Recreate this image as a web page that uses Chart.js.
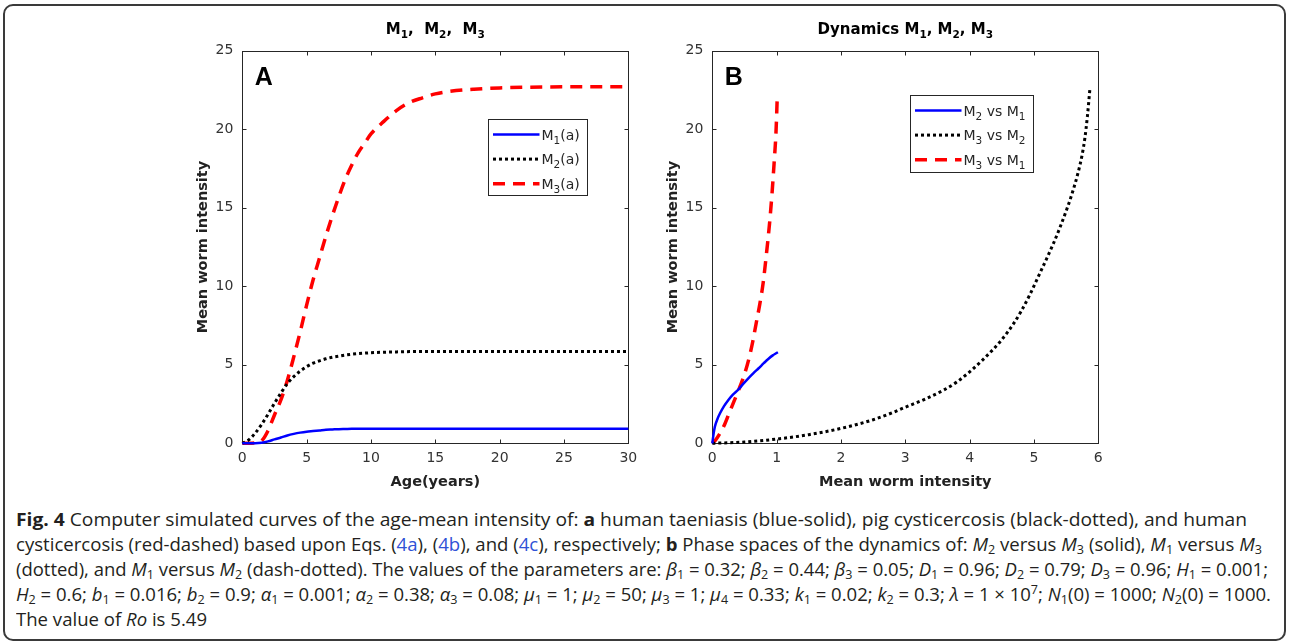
<!DOCTYPE html>
<html>
<head>
<meta charset="utf-8">
<script src="https://cdn.jsdelivr.net/npm/chart.js@4.4.1/dist/chart.umd.min.js"></script>
<style>
  body { margin: 0; background: #fff; width: 1290px; height: 644px; position: relative; overflow: hidden; }
  .frame { position: absolute; left: 3px; top: 4px; width: 1283px; height: 637px; box-sizing: border-box;
           border: 2px solid #3a3a3a; border-radius: 10px; }
  .plot { position: absolute; top: 8px; }
  .cap { position: absolute; left: 16px; top: 507px; font-family: "Open Sans", "Noto Sans", sans-serif;
         font-size: 17.5px; line-height: 25px; color: #231f20; }
  .cap .ln { display: block; white-space: nowrap; transform-origin: 0 50%; width: max-content; }
  .cap sub, .cap sup { font-size: 0.68em; line-height: 0; }
  .cap sub { vertical-align: -0.28em; }
  .cap sup { vertical-align: 0.55em; }
  .cap .lk { color: #2f52d6; }
</style>
</head>
<body>
<div class="frame"></div>
<canvas id="chartA" class="plot" style="left:180px" width="470" height="495"></canvas>
<canvas id="chartB" class="plot" style="left:650px" width="470" height="495"></canvas>

<div class="cap">
  <span class="ln" data-w="1231"><b>Fig. 4</b> Computer simulated curves of the age-mean intensity of: <b>a</b> human taeniasis (blue-solid), pig cysticercosis (black-dotted), and human</span>
  <span class="ln" data-w="1246">cysticercosis (red-dashed) based upon Eqs. (<span class="lk">4a</span>), (<span class="lk">4b</span>), and (<span class="lk">4c</span>), respectively; <b>b</b> Phase spaces of the dynamics of: <i>M</i><sub>2</sub> versus <i>M</i><sub>3</sub> (solid), <i>M</i><sub>1</sub> versus <i>M</i><sub>3</sub></span>
  <span class="ln" data-w="1252">(dotted), and <i>M</i><sub>1</sub> versus <i>M</i><sub>2</sub> (dash-dotted). The values of the parameters are: <i>β</i><sub>1</sub> = 0.32; <i>β</i><sub>2</sub> = 0.44; <i>β</i><sub>3</sub> = 0.05; <i>D</i><sub>1</sub> = 0.96; <i>D</i><sub>2</sub> = 0.79; <i>D</i><sub>3</sub> = 0.96; <i>H</i><sub>1</sub> = 0.001;</span>
  <span class="ln" data-w="1255"><i>H</i><sub>2</sub> = 0.6; <i>b</i><sub>1</sub> = 0.016; <i>b</i><sub>2</sub> = 0.9; <i>α</i><sub>1</sub> = 0.001; <i>α</i><sub>2</sub> = 0.38; <i>α</i><sub>3</sub> = 0.08; <i>μ</i><sub>1</sub> = 1; <i>μ</i><sub>2</sub> = 50; <i>μ</i><sub>3</sub> = 1; <i>μ</i><sub>4</sub> = 0.33; <i>k</i><sub>1</sub> = 0.02; <i>k</i><sub>2</sub> = 0.3; <i>λ</i> = 1 × 10<sup>7</sup>; <i>N</i><sub>1</sub>(0) = 1000; <i>N</i><sub>2</sub>(0) = 1000.</span>
  <span class="ln" data-w="191">The value of <i>Ro</i> is 5.49</span>
</div>

<script>
// ---- panel A: age vs mean worm intensity ----
const ageYears = [0, 0.5, 1, 1.5, 2, 2.5, 3, 3.5, 4, 4.5, 5, 5.5, 6, 6.5, 7, 7.5, 8, 8.5, 9, 9.5, 10, 11, 12, 13, 14, 15, 16, 18, 20, 22, 25, 30];
const m1Age = [0, 0, 0, 0.03, 0.12, 0.25, 0.37, 0.5, 0.6, 0.68, 0.74, 0.78, 0.82, 0.86, 0.88, 0.9, 0.91, 0.92, 0.92, 0.92, 0.92, 0.92, 0.92, 0.92, 0.92, 0.92, 0.92, 0.92, 0.92, 0.92, 0.92, 0.92];
const m2Age = [0, 0.22, 0.65, 1.2, 1.85, 2.55, 3.2, 3.8, 4.25, 4.6, 4.88, 5.1, 5.25, 5.38, 5.48, 5.55, 5.62, 5.67, 5.71, 5.74, 5.77, 5.8, 5.82, 5.84, 5.85, 5.85, 5.85, 5.85, 5.85, 5.85, 5.85, 5.85];
const m3Age = [0, 0, 0.02, 0.15, 0.8, 1.8, 2.76, 4.0, 5.5, 7.1, 8.8, 10.4, 11.8, 13.2, 14.5, 15.7, 16.8, 17.7, 18.5, 19.1, 19.7, 20.5, 21.2, 21.7, 22.0, 22.25, 22.4, 22.55, 22.63, 22.67, 22.7, 22.7];

// ---- panel B: phase curves ----
const blueM1 = [0, 0.02, 0.04, 0.08, 0.12, 0.18, 0.25, 0.32, 0.4, 0.48, 0.56, 0.64, 0.72, 0.8, 0.87, 0.94, 1.0, 1.02];
const blueM2 = [0, 0.6, 1.06, 1.55, 1.91, 2.35, 2.76, 3.1, 3.4, 3.78, 4.14, 4.47, 4.78, 5.1, 5.37, 5.6, 5.75, 5.8];
const redM1 = [0, 0.05, 0.1, 0.18, 0.26, 0.34, 0.42, 0.5, 0.57, 0.63, 0.68, 0.74, 0.79, 0.84, 0.89, 0.93, 0.96, 0.99, 1.01];
const redM3 = [0, 0.2, 0.5, 1.1, 1.9, 2.7, 3.5, 4.4, 5.4, 6.5, 7.6, 8.9, 10.2, 12.0, 14.0, 16.0, 17.8, 19.8, 22.1];
const blackM2 = [0, 0.5, 1.0, 1.5, 2.0, 2.5, 2.8, 3.0, 3.3, 3.6, 3.8, 4.0, 4.2, 4.37, 4.5, 4.68, 4.8, 4.94, 5.1, 5.3, 5.4, 5.51, 5.6, 5.69, 5.75, 5.79, 5.83, 5.87];
const blackM3 = [0, 0.08, 0.27, 0.55, 0.95, 1.5, 1.95, 2.3, 2.8, 3.4, 3.9, 4.55, 5.3, 6.0, 6.6, 7.6, 8.4, 9.5, 10.9, 12.7, 13.7, 14.9, 16.0, 17.3, 18.4, 19.4, 20.8, 22.6];

const intensityTicks = [0, 5, 10, 15, 20, 25];
const ageTicks = [0, 5, 10, 15, 20, 25, 30];
const phaseTicks = [0, 1, 2, 3, 4, 5, 6];

const AXIS_COLOR = "#262626";
const FONT = "DejaVu Sans";

function pts(xs, ys) {
  return xs.map((x, i) => ({ x: x, y: ys[i] }));
}

// "M_1, M_2" -> runs of [text, isSub]
function parseTex(s) {
  const runs = [];
  let buf = "";
  for (let i = 0; i < s.length; i++) {
    if (s[i] === "_") {
      if (buf) runs.push([buf, false]);
      buf = "";
      runs.push([s[i + 1], true]);
      i++;
    } else buf += s[i];
  }
  if (buf) runs.push([buf, false]);
  return runs;
}

function richWidth(ctx, runs, font, subFont) {
  let w = 0;
  runs.forEach(r => { ctx.font = r[1] ? subFont : font; w += ctx.measureText(r[0]).width; });
  return w;
}

function drawRich(ctx, runs, x, y, font, subFont, subDy) {
  runs.forEach(r => {
    ctx.font = r[1] ? subFont : font;
    ctx.fillText(r[0], x, y + (r[1] ? subDy : 0));
    x += ctx.measureText(r[0]).width;
  });
}

const matlabAxes = {
  id: "matlabAxes",
  beforeDatasetsDraw(chart) {
    const ctx = chart.ctx, ca = chart.chartArea;
    const xs = chart.scales.x, ys = chart.scales.y;
    const L = Math.round(ca.left) + 0.5, R = Math.round(ca.right) + 0.5;
    const T = Math.round(ca.top) + 0.5, B = Math.round(ca.bottom) + 0.5;
    ctx.save();
    ctx.strokeStyle = AXIS_COLOR;
    ctx.lineWidth = 1;
    ctx.strokeRect(L, T, R - L, B - T);
    ctx.beginPath();
    xs.ticks.forEach(t => {
      const px = Math.round(xs.getPixelForValue(t.value)) + 0.5;
      ctx.moveTo(px, B); ctx.lineTo(px, B - 4);
      ctx.moveTo(px, T); ctx.lineTo(px, T + 4);
    });
    ys.ticks.forEach(t => {
      const py = Math.round(ys.getPixelForValue(t.value)) + 0.5;
      ctx.moveTo(L, py); ctx.lineTo(L + 4, py);
      ctx.moveTo(R, py); ctx.lineTo(R - 4, py);
    });
    ctx.stroke();
    ctx.restore();
  },
  afterDatasetsDraw(chart, args, opts) {
    const ctx = chart.ctx, ca = chart.chartArea;
    ctx.save();
    ctx.fillStyle = "#000";
    ctx.textBaseline = "alphabetic";
    ctx.textAlign = "left";

    // title with subscripts
    const tRuns = parseTex(opts.title);
    const tFont = "bold 15px " + FONT, tSub = "bold 10.5px " + FONT;
    const tw = richWidth(ctx, tRuns, tFont, tSub);
    drawRich(ctx, tRuns, (ca.left + ca.right) / 2 - tw / 2, 26, tFont, tSub, 4);

    // panel letter
    ctx.font = "bold 25px 'Liberation Sans', Arial, sans-serif";
    ctx.fillText(opts.panel, ca.left + 12.5, ca.top + 34);

    // legend box
    const lg = opts.legend;
    const bx = Math.round(ca.left + lg.x) + 0.5, by = Math.round(ca.top + lg.y) + 0.5;
    ctx.fillStyle = "#fff";
    ctx.fillRect(bx, by, lg.w, lg.h);
    ctx.strokeStyle = AXIS_COLOR;
    ctx.lineWidth = 1;
    ctx.setLineDash([]);
    ctx.strokeRect(bx, by, lg.w, lg.h);
    chart.data.datasets.forEach((ds, i) => {
      const ly = by + 15 + i * 24.6;
      ctx.save();
      ctx.strokeStyle = ds.borderColor;
      ctx.lineWidth = ds.borderWidth;
      ctx.setLineDash(ds.borderDash || []);
      ctx.beginPath();
      ctx.moveTo(bx + 4.5, ly);
      ctx.lineTo(bx + 51, ly);
      ctx.stroke();
      ctx.restore();
      ctx.fillStyle = AXIS_COLOR;
      drawRich(ctx, parseTex(ds.label), bx + 53, ly + 5, "14px " + FONT, "10.5px " + FONT, 4);
    });
    ctx.restore();
  }
};

function lineSet(label, data, color, width, dash) {
  return {
    label: label, data: data, borderColor: color, backgroundColor: color,
    borderWidth: width, borderDash: dash, pointRadius: 0, showLine: true, fill: false,
    cubicInterpolationMode: "monotone", clip: false
  };
}

function makeChart(id, datasets, xMax, xTicks, xTitle, extra) {
  return new Chart(document.getElementById(id), {
    type: "scatter",
    data: { datasets: datasets },
    plugins: [matlabAxes],
    options: {
      responsive: false,
      animation: false,
      events: [],
      layout: { padding: { left: 0, top: 42.7, right: 21.7, bottom: 0 } },
      scales: {
        x: {
          type: "linear", min: 0, max: xMax,
          afterBuildTicks: s => { s.ticks = xTicks.map(v => ({ value: v })); },
          afterFit: s => { s.height = 59.7; },
          grid: { display: false, drawTicks: false },
          border: { display: false },
          ticks: { font: { family: FONT, size: 14 }, color: "#333", padding: 7, maxRotation: 0, autoSkip: false },
          title: { display: true, text: xTitle, color: "#222",
                   font: { family: FONT, size: 14.5, weight: "bold" }, padding: { top: 0, bottom: 11.8 } }
        },
        y: {
          type: "linear", min: 0, max: 25,
          afterBuildTicks: s => { s.ticks = intensityTicks.map(v => ({ value: v })); },
          afterFit: s => { s.width = 62.3; },
          grid: { display: false, drawTicks: false },
          border: { display: false },
          ticks: { font: { family: FONT, size: 14 }, color: "#333", padding: 9, autoSkip: false },
          title: { display: true, text: "Mean worm intensity", color: "#222",
                   font: { family: FONT, size: 14.5, weight: "bold" }, padding: { top: 14.6, bottom: 0 } }
        }
      },
      plugins: {
        legend: { display: false },
        tooltip: { enabled: false },
        matlabAxes: extra
      }
    }
  });
}

makeChart("chartA", [
  lineSet("M_1(a)", pts(ageYears, m1Age), "#0000ff", 2.5, []),
  lineSet("M_2(a)", pts(ageYears, m2Age), "#000000", 3, [3, 3]),
  lineSet("M_3(a)", pts(ageYears, m3Age), "#ff0000", 3.5, [12, 8])
], 30, ageTicks, "Age(years)", {
  title: "M_1,  M_2,  M_3", panel: "A",
  legend: { x: 246, y: 68.3, w: 99, h: 76 }
});

makeChart("chartB", [
  lineSet("M_2 vs M_1", pts(blueM1, blueM2), "#0000ff", 2.5, []),
  lineSet("M_3 vs M_2", pts(blackM2, blackM3), "#000000", 3, [3, 3]),
  lineSet("M_3 vs M_1", pts(redM1, redM3), "#ff0000", 3.5, [12, 8])
], 6, phaseTicks, "Mean worm intensity", {
  title: "Dynamics M_1, M_2, M_3", panel: "B",
  legend: { x: 197.7, y: 44.3, w: 123, h: 77 }
});

// fit caption lines to the reference line lengths
document.querySelectorAll(".cap .ln").forEach(el => {
  const w = el.getBoundingClientRect().width;
  const target = parseFloat(el.dataset.w);
  el.style.transform = "scaleX(" + (target / w) + ")";
});
</script>
</body>
</html>
